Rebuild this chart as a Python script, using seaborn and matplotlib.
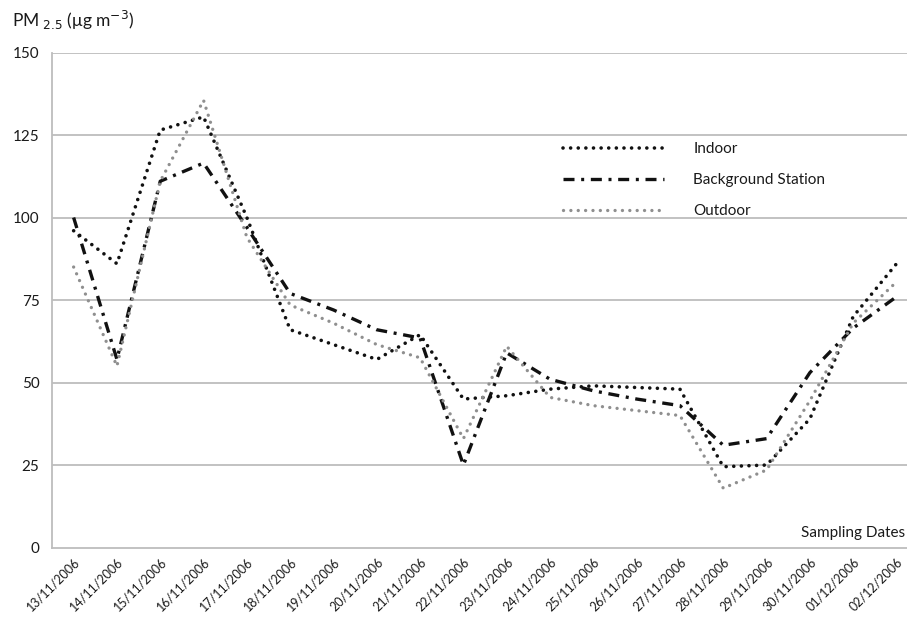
import numpy as np
import pandas as pd
import matplotlib
matplotlib.use("Agg")
import matplotlib.pyplot as plt
import seaborn as sns

dates = ["13/11/2006", "14/11/2006", "15/11/2006", "16/11/2006", "17/11/2006",
         "18/11/2006", "19/11/2006", "20/11/2006", "21/11/2006", "22/11/2006",
         "23/11/2006", "24/11/2006", "25/11/2006", "26/11/2006", "27/11/2006",
         "28/11/2006", "29/11/2006", "30/11/2006", "01/12/2006", "02/12/2006"]

indoor = [96, 86, 126.5, 130.5, 100, 66, 61.5, 57, 64.5, 45,
          46, 48, 49, 48.5, 48, 24.5, 25, 39, 70, 86]
background = [100, 57, 111, 116.5, 97, 77, 72, 66, 63.5, 25,
              59, 51, 47.5, 45, 43, 31, 33, 53, 66.5, 76]
outdoor = [85, 55, 111, 135.5, 94, 73.5, 68, 61.5, 57.5, 33,
           61, 45.5, 43, 41.5, 40, 18, 23.5, 44.5, 68, 80.5]

y_ticks = [0, 25, 50, 75, 100, 125, 150]

sns.set_style("white")
plt.rcParams["font.family"] = ["Lato", "DejaVu Sans"]

df = pd.DataFrame({"idx": np.arange(len(dates)), "date": dates,
                   "Indoor": indoor, "Background Station": background,
                   "Outdoor": outdoor})

fig = plt.figure(figsize=(9.07, 6.18), dpi=100)
ax = fig.add_axes([0.0573, 0.114, 0.955, 0.801])

grid_col = "#bdbdbd"
txt_col = "#1a1a1a"
for v in y_ticks[1:]:
    ax.axhline(v, color=grid_col, lw=1.3, zorder=0)

sns.lineplot(data=df, x="idx", y="Indoor", ax=ax, color="#111111", lw=2.6,
             linestyle=(0, (0.01, 2.1)), dash_capstyle="round",
             label="Indoor", sort=False)
sns.lineplot(data=df, x="idx", y="Background Station", ax=ax, color="#111111",
             lw=2.4, linestyle=(0, (3.3, 2.0, 0.9, 2.0)), dash_capstyle="butt",
             label="Background Station", sort=False)
sns.lineplot(data=df, x="idx", y="Outdoor", ax=ax, color="#8f8f8f", lw=2.4,
             linestyle=(0, (0.01, 2.2)), dash_capstyle="round",
             label="Outdoor", sort=False)

ax.set_xlim(-0.5, len(dates) - 0.5)
ax.set_ylim(0, 150)
ax.set_yticks(y_ticks)
ax.set_yticklabels([str(v) for v in y_ticks], fontsize=11, color=txt_col)
ax.set_xticks(np.arange(len(dates)))
ax.set_xticklabels(dates, rotation=45, ha="right", rotation_mode="anchor",
                   fontsize=9, color=txt_col)
ax.set_xticks(np.arange(-0.5, len(dates), 1), minor=True)
ax.tick_params(axis="x", which="major", length=0, pad=6)
ax.tick_params(axis="x", which="minor", length=5, width=1.2, color=grid_col,
               direction="out")
ax.tick_params(axis="y", length=5, width=1.2, color=grid_col, direction="out",
               pad=4)
ax.set_xlabel("")
ax.set_ylabel("")

for s in ["top", "right"]:
    ax.spines[s].set_visible(False)
for s in ["left", "bottom"]:
    ax.spines[s].set_color(grid_col)
    ax.spines[s].set_linewidth(1.3)

fig.text(0.013, 0.967, "PM$_{\\ 2.5}$ (μg m$^{-3}$)", fontsize=12.5,
         color=txt_col, va="center", ha="left")
fig.text(0.998, 0.138, "Sampling Dates", fontsize=11, color=txt_col,
         ha="right", va="center")

leg = ax.legend(loc="upper left", bbox_to_anchor=(0.606, 0.792),
                bbox_transform=fig.transFigure, frameon=False, fontsize=11,
                handlelength=6.6, handletextpad=1.9, labelspacing=1.1)
for t in leg.get_texts():
    t.set_color(txt_col)

fig.savefig("out.png", dpi=100)
